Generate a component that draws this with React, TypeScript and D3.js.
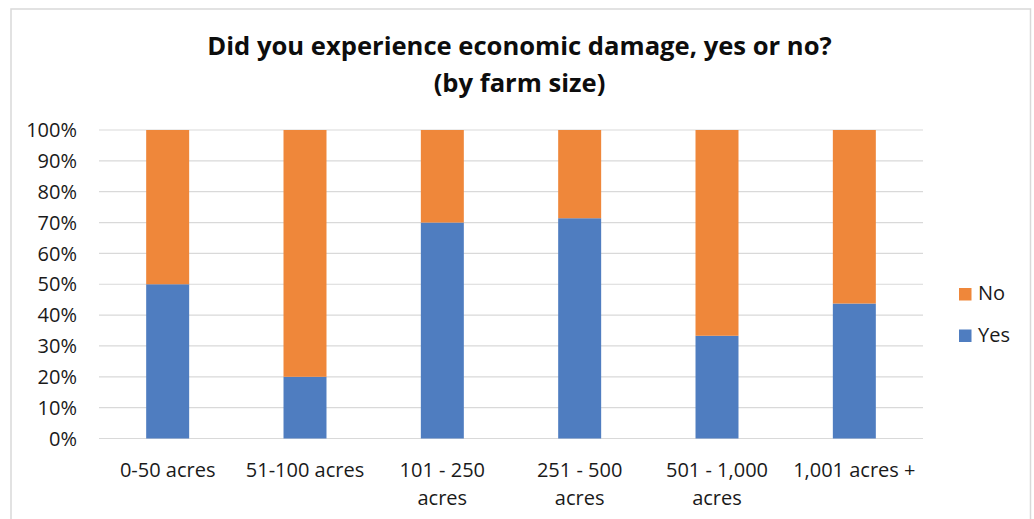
import React, { useEffect, useRef } from "react";
import * as d3 from "d3";

// Farm-size categories and share of respondents answering Yes / No
const categories = [
  "0-50 acres",
  "51-100 acres",
  "101 - 250 acres",
  "251 - 500 acres",
  "501 - 1,000 acres",
  "1,001 acres +",
];
const yesShare = [0.5, 0.2, 0.7, 0.714, 0.333, 0.4375];
const noShare = [0.5, 0.8, 0.3, 0.286, 0.667, 0.5625];

const seriesNames = ["Yes", "No"];
const seriesColors = ["#4F7DC0", "#EF873A"];
const yTicks = [0, 0.1, 0.2, 0.3, 0.4, 0.5, 0.6, 0.7, 0.8, 0.9, 1.0];

const titleLines = [
  "Did you experience economic damage, yes or no?",
  "(by farm size)",
];

const W = 1034;
const H = 519;
const FONT = "'Open Sans', 'DejaVu Sans', sans-serif";

export default function App() {
  const ref = useRef<SVGSVGElement | null>(null);

  useEffect(() => {
    const svg = d3.select(ref.current);
    svg.selectAll("*").remove();

    // chart frame
    svg
      .append("rect")
      .attr("x", 11)
      .attr("y", 9)
      .attr("width", 1019.5)
      .attr("height", 600)
      .attr("fill", "#fff")
      .attr("stroke", "#D9D9D9")
      .attr("stroke-width", 1.5);

    // title
    svg
      .append("g")
      .selectAll("text")
      .data(titleLines)
      .join("text")
      .attr("x", 519.5)
      .attr("y", (_d, i) => 55 + i * 37)
      .attr("text-anchor", "middle")
      .attr("font-family", FONT)
      .attr("font-weight", 700)
      .attr("font-size", 25.6)
      .attr("fill", "#0d0d0d")
      .text((d) => d);

    const x = d3
      .scaleBand<string>()
      .domain(categories)
      .range([99, 923])
      .paddingInner(0.687)
      .paddingOuter(0.3435);
    const y = d3.scaleLinear().domain([0, 1]).range([438.5, 130]);

    // gridlines
    svg
      .append("g")
      .selectAll("line")
      .data(yTicks)
      .join("line")
      .attr("x1", 99)
      .attr("x2", 923)
      .attr("y1", (d) => y(d))
      .attr("y2", (d) => y(d))
      .attr("stroke", "#D9D9D9")
      .attr("stroke-width", 1.2);

    // y-axis labels
    const pct = d3.format(".0%");
    svg
      .append("g")
      .selectAll("text")
      .data(yTicks)
      .join("text")
      .attr("x", 77)
      .attr("y", (d) => y(d))
      .attr("dy", "0.36em")
      .attr("text-anchor", "end")
      .attr("font-family", FONT)
      .attr("font-size", 20)
      .attr("fill", "#1a1a1a")
      .text((d) => pct(d));

    // stacked bars
    const rows = categories.map((c, i) => ({ cat: c, Yes: yesShare[i], No: noShare[i] }));
    const stack = d3.stack<any>().keys(seriesNames);
    const layers = stack(rows);
    svg
      .append("g")
      .selectAll("g")
      .data(layers)
      .join("g")
      .attr("fill", (_d, i) => seriesColors[i])
      .selectAll("rect")
      .data((d) => d)
      .join("rect")
      .attr("x", (d: any) => x(d.data.cat)!)
      .attr("width", x.bandwidth())
      .attr("y", (d) => y(d[1]))
      .attr("height", (d) => y(d[0]) - y(d[1]));

    // category labels, wrapped to the band step
    const maxW = x.step();
    const labels = svg
      .append("g")
      .selectAll("text")
      .data(categories)
      .join("text")
      .attr("text-anchor", "middle")
      .attr("font-family", FONT)
      .attr("font-size", 20)
      .attr("fill", "#1a1a1a")
      .attr("x", (d) => x(d)! + x.bandwidth() / 2)
      .attr("y", 476.5);

    labels.each(function (d) {
      const t = d3.select(this);
      const cx = x(d)! + x.bandwidth() / 2;
      const words = d.split(" ");
      const lines: string[] = [];
      let cur: string[] = [];
      const probe = t.append("tspan");
      for (const w of words) {
        const test = [...cur, w].join(" ");
        probe.text(test);
        if ((probe.node() as SVGTSpanElement).getComputedTextLength() > maxW && cur.length) {
          lines.push(cur.join(" "));
          cur = [w];
        } else {
          cur.push(w);
        }
      }
      if (cur.length) lines.push(cur.join(" "));
      probe.remove();
      lines.forEach((ln, i) => {
        t.append("tspan")
          .attr("x", cx)
          .attr("y", 476.5 + i * 28.5)
          .text(ln);
      });
    });

    // legend (No above Yes)
    const legendItems = [
      { name: "No", color: seriesColors[1], base: 300 },
      { name: "Yes", color: seriesColors[0], base: 341.5 },
    ];
    const lg = svg.append("g");
    lg.selectAll("rect")
      .data(legendItems)
      .join("rect")
      .attr("x", 959)
      .attr("y", (d) => d.base - 12)
      .attr("width", 12.5)
      .attr("height", 12.5)
      .attr("fill", (d) => d.color);
    lg.selectAll("text")
      .data(legendItems)
      .join("text")
      .attr("x", 978)
      .attr("y", (d) => d.base)
      .attr("font-family", FONT)
      .attr("font-size", 20)
      .attr("fill", "#1a1a1a")
      .text((d) => d.name);
  }, []);

  return (
    <svg
      ref={ref}
      width={W}
      height={H}
      style={{ position: "absolute", left: 0, top: 0, background: "#fff" }}
    />
  );
}
